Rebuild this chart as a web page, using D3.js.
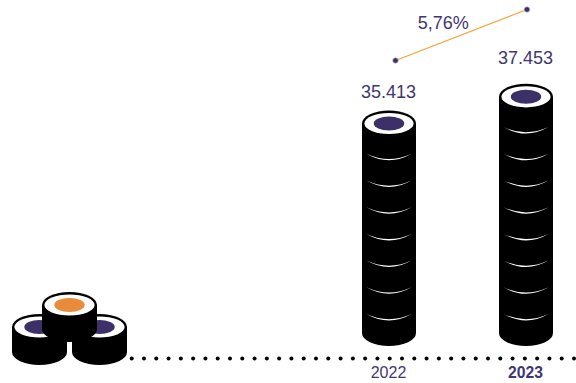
<!DOCTYPE html>
<html><head><meta charset="utf-8">
<script src="https://cdn.jsdelivr.net/npm/d3@7/dist/d3.min.js"></script>
<style>html,body{margin:0;padding:0;background:#fff}svg{display:block}text{font-family:"Liberation Sans",Arial,sans-serif}</style>
</head><body><svg id="c" width="576" height="383"></svg>
<script>
const years = ["2022", "2023"];
const values = [35413, 37453];
const valueLabels = ["35.413", "37.453"];
const sliceCounts = [7, 8];
const growthLabel = "5,76%";

const PURPLE = "#3d3069", TEXT = "#3f3672", ORANGE = "#e98b3a", LINE = "#f5a03c";
const svg = d3.select("#c");
const x = d3.scalePoint().domain(years).range([389, 526]);
const y = d3.scaleLinear().domain([35413, 37453]).range([123.5, 96.8]);
const labelY = d3.scaleLinear().domain([35413, 37453]).range([98, 64.3]);
const baseBottom = 333;
const rx = 27, ry = 13;

function roll(g, cx, cy, bottom, rX, fill) {
  g.append("path").attr("fill", "#000")
    .attr("d", `M${cx-rX},${cy}A${rX},${ry} 0 0 1 ${cx+rX},${cy}L${cx+rX},${bottom}A${rX},${ry} 0 0 1 ${cx-rX},${bottom}Z`);
  g.append("ellipse").attr("cx", cx).attr("cy", cy).attr("rx", rX-2.4).attr("ry", ry-2.4).attr("fill", "#fff");
  g.append("ellipse").attr("cx", cx).attr("cy", cy).attr("rx", 15.2).attr("ry", 7).attr("fill", fill);
}

// dotted baseline
const dots = d3.range(37);
const dotX = d3.scaleLinear().domain([0, 36]).range([131.7, 574]);
svg.append("g").selectAll("circle").data(dots).join("circle")
  .attr("cx", d => dotX(d)).attr("cy", 358.5).attr("r", 2).attr("fill", "#000");

// stacked columns
years.forEach((yr, i) => {
  const cx = x(yr), top = y(values[i]);
  const g = svg.append("g");
  roll(g, cx, top, baseBottom, rx, PURPLE);
  d3.range(sliceCounts[i]).forEach(k => {
    const low = 320 - k * 26.7;
    const hw = 22.5;
    g.append("path").attr("fill", "#fff")
      .attr("d", `M${cx-hw},${low-6}Q${cx},${low+7} ${cx+hw},${low-6}Q${cx},${low+4.4} ${cx-hw},${low-6}Z`);
  });
  svg.append("text").attr("x", cx - 0.5).attr("y", labelY(values[i])).attr("text-anchor", "middle")
    .attr("font-size", 18).attr("fill", TEXT).text(valueLabels[i]);
  svg.append("text").attr("x", cx - 0.5).attr("y", 378).attr("text-anchor", "middle")
    .attr("font-size", i ? 15.7 : 16).attr("font-weight", i ? "bold" : "normal")
    .attr("fill", TEXT).text(yr);
});

// growth connector
const lineY = d3.scaleLinear().domain([35413, 37453]).range([60.5, 9.5]);
const lineX = d3.scalePoint().domain(years).range([395.5, 527]);
const pts = years.map((yr, i) => [lineX(yr), lineY(values[i])]);
svg.append("path").attr("d", d3.line()(pts)).attr("stroke", LINE).attr("stroke-width", 1.2).attr("fill", "none");
svg.append("g").selectAll("circle").data(pts).join("circle")
  .attr("cx", d => d[0]).attr("cy", d => d[1]).attr("r", 2.8).attr("fill", PURPLE)
  .attr("stroke", "#c9c6d6").attr("stroke-width", 0.7);
svg.append("text").attr("x", 443.3).attr("y", 29).attr("text-anchor", "middle")
  .attr("font-size", 18).attr("fill", TEXT).text(growthLabel);

// sushi icon
const icon = svg.append("g");
const r2 = 27.5;
roll(icon, 39.5, 327, 352, r2, PURPLE);
roll(icon, 99.5, 327, 352, r2, PURPLE);
roll(icon, 69.5, 305, 329, r2, ORANGE);
</script></body></html>
